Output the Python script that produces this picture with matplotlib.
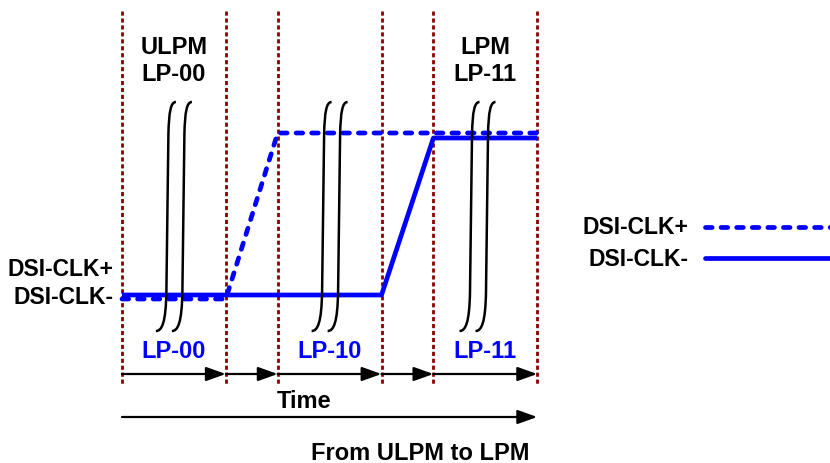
import numpy as np
import matplotlib
matplotlib.use("Agg")
import matplotlib.pyplot as plt
from matplotlib.path import Path
from matplotlib.patches import PathPatch

plt.rcParams['font.family'] = ['Liberation Sans', 'DejaVu Sans']

# state boundaries along the time axis (arbitrary units)
boundaries = [0, 2, 3, 5, 6, 8]
state_labels = ['LP-00', 'LP-10', 'LP-11']
state_centers = [1, 4, 7]
# signal levels (0 = low, 1 = high) at each boundary
clk_p_t = [0, 2, 3, 8]
clk_p_v = [0, 0, 1, 1]
clk_n_t = [0, 5, 6, 8]
clk_n_v = [0, 0, 1, 1]
# where the time-break marks sit
breaks = [1.0, 4.0, 6.85]
top_labels = {1: ('ULPM', 'LP-00'), 7: ('LPM', 'LP-11')}

BLUE = '#0000FF'
RED = '#8B0000'

# pixel <-> data helpers (t=0 at x=122px, 51.9 px per unit; level 0 at y=297px, 160 px per unit)
def px2x(px):
    return (px - 122) / 51.9

def px2y(py):
    return (297 - py) / 160

fig = plt.figure(figsize=(8.3, 4.64), dpi=100)
ax = fig.add_axes([0, 0, 1, 1])
ax.set_xlim(px2x(0), px2x(830))
ax.set_ylim(px2y(464), px2y(0))
ax.axis('off')

# vertical dotted boundaries
for b in boundaries:
    ax.plot([b, b], [px2y(12), px2y(385)], color=RED, lw=2.0,
            linestyle=(0, (1.5, 1.0)), zorder=1)

# signals
ax.plot(clk_n_t, np.array(clk_n_v) * (px2y(139) - px2y(296)) + px2y(296),
        color=BLUE, lw=3.4, solid_capstyle='butt', zorder=3)
ax.plot(clk_p_t, np.array(clk_p_v) * (px2y(134) - px2y(300)) + px2y(300),
        color=BLUE, lw=3.4, linestyle=(0, (1.4, 1.9)), dash_capstyle='round', zorder=4)

# break marks (pairs of long S curves)
def break_curve(xc):
    pts = [(xc - 11, 332), (xc - 5, 332), (xc - 1, 324), (xc - 0.5, 292),
           (xc + 1.5, 136), (xc + 2, 112), (xc + 4, 103), (xc + 9, 103)]
    codes = [Path.MOVETO, Path.CURVE4, Path.CURVE4, Path.CURVE4,
             Path.LINETO, Path.CURVE4, Path.CURVE4, Path.CURVE4]
    verts = [(px2x(x), px2y(y)) for x, y in pts]
    return PathPatch(Path(verts, codes), fill=False, lw=1.8, color='black', zorder=5)

for bk in breaks:
    xc = 122 + bk * 51.9 - 7
    ax.add_patch(break_curve(xc))
    ax.add_patch(break_curve(xc + 16))

txt = dict(fontsize=17, fontweight='bold')
for c, (s1, s2) in top_labels.items():
    ax.text(c, px2y(48), s1, ha='center', va='center', **txt)
    ax.text(c, px2y(75), s2, ha='center', va='center', **txt)

for c, s in zip(state_centers, state_labels):
    ax.text(c, px2y(352), s, ha='center', va='center', color=BLUE, **txt)

side = dict(fontsize=16.5, fontweight='bold')
ax.text(px2x(113), px2y(270), 'DSI-CLK+', ha='right', va='center', **side)
ax.text(px2x(113), px2y(297), 'DSI-CLK-', ha='right', va='center', **side)

# legend
ax.text(px2x(688), px2y(228), 'DSI-CLK+', ha='right', va='center', **side)
ax.text(px2x(688), px2y(259), 'DSI-CLK-', ha='right', va='center', **side)
ax.plot([px2x(705), px2x(830)], [px2y(228)] * 2, color=BLUE, lw=3.4,
        linestyle=(0, (1.4, 1.9)), dash_capstyle='round')
ax.plot([px2x(705), px2x(830)], [px2y(259)] * 2, color=BLUE, lw=3.4,
        solid_capstyle='round')

# time arrows
arrow = dict(arrowstyle='-|>,head_length=0.7,head_width=0.25', color='black',
             lw=1.6, shrinkA=0, shrinkB=0, mutation_scale=17)
for a, b in zip(boundaries[:-1], boundaries[1:]):
    ax.annotate('', xy=(b, px2y(375)), xytext=(a, px2y(375)), arrowprops=arrow, zorder=2)

ax.text(np.mean([boundaries[0], boundaries[-1]]) - 0.5, px2y(402), 'Time',
        ha='center', va='center', **txt)
ax.annotate('', xy=(boundaries[-1], px2y(418)), xytext=(boundaries[0], px2y(418)),
            arrowprops=arrow)
ax.text(px2x(420), px2y(453), 'From ULPM to LPM', ha='center', va='center', **txt)

fig.savefig('out.png', dpi=100)
